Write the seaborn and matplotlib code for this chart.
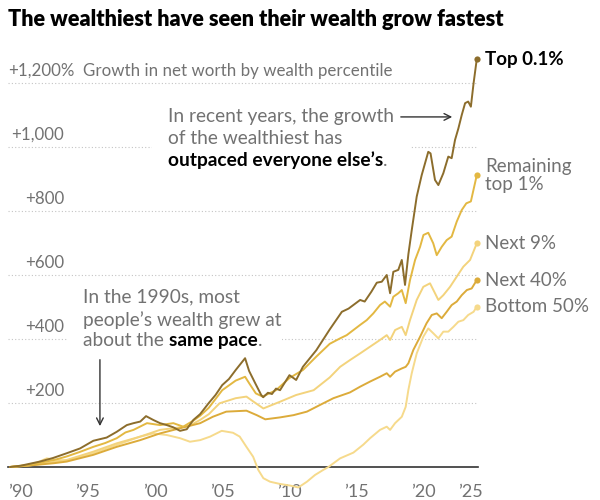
import matplotlib
matplotlib.use("Agg")
import matplotlib.pyplot as plt
import matplotlib.transforms as mtransforms
from matplotlib.patches import Rectangle
import seaborn as sns
import pandas as pd

sns.set_theme(style="white")
plt.rcParams["font.family"] = ["Lato", "DejaVu Sans"]

# growth in net worth since 1989 (%)
top01_year = [1989.2, 1990.0, 1991.44, 1992.4, 1993.43, 1994.42, 1995.41, 1996.4, 1997.15, 1997.9,
              1998.4, 1998.9, 1999.33, 1999.87, 2000.37, 2000.87, 2001.36, 2001.86, 2002.36, 2002.85,
              2003.35, 2004.0, 2004.5, 2005.0, 2005.5, 2006.0, 2006.7, 2007.0, 2007.5, 2007.9, 2008.05,
              2008.4, 2008.7, 2009.0, 2009.3, 2010.0, 2010.5, 2011.0, 2012.0, 2013.0, 2013.9,
              2014.4, 2015.26, 2015.6, 2016.1, 2016.5, 2016.87, 2017.24, 2017.49, 2017.73, 2018.1,
              2018.36, 2018.6, 2018.85, 2019.1, 2019.47, 2019.84, 2020.33, 2020.5, 2020.83, 2021.08,
              2021.45, 2021.82, 2022.07, 2022.32, 2022.57, 2022.82, 2023.07, 2023.3, 2023.5, 2023.7,
              2023.94]
top01_pct = [0, 4, 17, 28, 43, 58, 82, 92, 110, 131,
             137, 142, 159, 147, 137, 131, 124, 113, 118, 147,
             165, 200, 225, 256, 275, 303, 340, 300, 258, 225, 218,
             232, 228, 245, 240, 287, 272, 313, 365, 430, 485,
             495, 522, 517, 548, 576, 579, 600, 543, 610, 616,
             647, 569, 665, 740, 845, 912, 985, 980, 897, 881,
             918, 970, 965, 1022, 1058, 1100, 1137, 1142, 1126, 1199,
             1275]

rem1_year = [1989.2, 1990.5, 1991.5, 1992.5, 1993.43, 1994.4, 1995.41, 1996.3, 1997.15, 1997.8,
             1998.4, 1999.4, 2000.37, 2001.36, 2002.1, 2002.85, 2003.35, 2004.0, 2005.0, 2006.0,
             2006.7, 2007.0, 2007.5, 2008.0, 2009.0, 2010.0, 2011.0, 2012.0, 2013.0, 2013.77,
             2014.26, 2014.76, 2015.26, 2015.75, 2016.24, 2016.74, 2017.1, 2017.49, 2017.73, 2018.1,
             2018.36, 2018.65, 2018.97, 2019.35, 2019.72, 2019.97, 2020.33, 2020.7, 2020.96, 2021.33,
             2021.7, 2022.07, 2022.45, 2022.82, 2023.16, 2023.5, 2023.94]
rem1_pct = [0, 6, 14, 22, 33, 47, 63, 75, 90, 108,
            116, 137, 131, 137, 126, 145, 160, 185, 240, 270,
            282, 262, 230, 220, 240, 278, 303, 345, 385, 402,
            412, 428, 444, 459, 480, 506, 517, 501, 532, 543,
            553, 512, 584, 647, 688, 725, 732, 699, 662, 688,
            709, 720, 767, 803, 824, 830, 912]

next9_year = [1989.2, 1990.5, 1991.5, 1992.5, 1993.43, 1995.41, 1997.15, 1998.9, 2000.37, 2001.86,
              2002.6, 2003.35, 2004.0, 2004.8, 2006.0, 2006.8, 2007.3, 2008.06, 2009.3, 2010.5,
              2011.8, 2013.0, 2013.77, 2014.5, 2015.26, 2016.0, 2016.74, 2017.24, 2017.49, 2017.86,
              2018.36, 2018.65, 2018.97, 2019.47, 2019.96, 2020.46, 2020.83, 2021.08, 2021.45, 2021.95,
              2022.45, 2022.94, 2023.44, 2023.94]
next9_pct = [0, 4, 10, 16, 22, 48, 74, 95, 116, 124,
             130, 147, 165, 199, 215, 220, 205, 183, 204, 225,
             240, 280, 313, 334, 355, 376, 397, 412, 397, 428,
             438, 412, 459, 522, 563, 574, 543, 522, 537, 563,
             595, 626, 647, 699]

next40_year = [1989.2, 1990.5, 1991.5, 1992.5, 1993.43, 1995.41, 1997.15, 1998.9, 2000.37, 2001.86,
               2003.36, 2004.3, 2005.3, 2006.8, 2007.57, 2008.2, 2009.3, 2010.3, 2011.3, 2012.28,
               2013.27, 2014.5, 2015.26, 2016.0, 2016.74, 2017.24, 2017.49, 2017.86, 2018.36, 2018.65,
               2018.85, 2019.22, 2019.72, 2020.2, 2020.59, 2020.96, 2021.33, 2021.7, 2022.07, 2022.45,
               2022.82, 2023.2, 2023.56, 2023.94]
next40_pct = [0, 4, 8, 12, 17, 38, 63, 84, 105, 121,
              137, 157, 173, 176, 162, 149, 155, 162, 173, 194,
              215, 233, 251, 267, 282, 293, 282, 298, 308, 313,
              324, 366, 407, 449, 475, 480, 465, 485, 506, 517,
              537, 553, 558, 584]

bottom50_year = [1989.2, 1990.5, 1991.3, 1991.94, 1992.7, 1993.43, 1995.41, 1997.15, 1998.9, 1999.87,
                 2000.87, 2001.86, 2002.6, 2003.36, 2004.1, 2004.96, 2005.8, 2006.3, 2006.8, 2007.3,
                 2007.68, 2008.06, 2008.56, 2009.3, 2010.05, 2010.66, 2011.3, 2011.9, 2012.52, 2012.9,
                 2013.77, 2014.76, 2015.5, 2016.0, 2016.74, 2017.24, 2017.49, 2017.86, 2018.36, 2018.65,
                 2018.85, 2019.1, 2019.47, 2019.96, 2020.33, 2020.7, 2021.08, 2021.45, 2021.82, 2022.2,
                 2022.57, 2022.94, 2023.3, 2023.7, 2023.94]
bottom50_pct = [0, 6, 15, 27, 22, 20, 43, 69, 95, 105,
                100, 90, 79, 84, 95, 113, 107, 95, 63, 32,
                -9, -35, -46, -53, -58, -64, -46, -25, -9, 0,
                27, 45, 70, 90, 116, 126, 116, 137, 157, 188,
                241, 293, 355, 407, 433, 418, 402, 423, 423, 438,
                454, 459, 475, 485, 501]

groups = ["Bottom 50%", "Next 9%", "Next 40%", "Remaining top 1%", "Top 0.1%"]
end_labels = {"Top 0.1%": "Top 0.1%", "Remaining top 1%": "Remaining\ntop 1%",
              "Next 9%": "Next 9%", "Next 40%": "Next 40%", "Bottom 50%": "Bottom 50%"}
palette = {"Top 0.1%": "#8c6d2c", "Remaining top 1%": "#e3b842", "Next 9%": "#f3d37c",
           "Next 40%": "#dcab3a", "Bottom 50%": "#f6da8c"}

grid_vals = [200, 400, 600, 800, 1000, 1200]
grid_labels = ["+200", "+400", "+600", "+800", "+1,000", "+1,200%"]
tick_years = [1990, 1995, 2000, 2005, 2010, 2015, 2020]
tick_labels = ["\u201990", "\u201995", "\u201900", "\u201905", "\u201910", "\u201915", "\u201920", "\u201925"]

data = {"Top 0.1%": (top01_year, top01_pct), "Remaining top 1%": (rem1_year, rem1_pct),
        "Next 9%": (next9_year, next9_pct), "Next 40%": (next40_year, next40_pct),
        "Bottom 50%": (bottom50_year, bottom50_pct)}
rows = []
for g in groups:
    for yr, v in zip(*data[g]):
        rows.append({"group": g, "year": yr, "pct": v})
df = pd.DataFrame(rows)

GRAY = "#727272"
fig = plt.figure(figsize=(6, 5), dpi=100)
ax = fig.add_axes([8 / 600, 33 / 500, 470 / 600, 416 / 500])
ax.set_axisbelow(True)

sns.lineplot(data=df, x="year", y="pct", hue="group", hue_order=groups, palette=palette,
             estimator=None, sort=False, linewidth=1.4, legend=False, ax=ax, zorder=3)
for ln in ax.lines:
    ln.set_clip_on(False)
ax.set_xlabel("")
ax.set_ylabel("")

last = df.groupby("group").tail(1).set_index("group")
for g in groups:
    xe, ye = last.loc[g, "year"], last.loc[g, "pct"]
    ax.scatter([xe], [ye], s=20, color=palette[g], zorder=4, clip_on=False, linewidths=0)
    bold = g == "Top 0.1%"
    ax.annotate(end_labels[g], (xe, ye), xytext=(6, 0), textcoords="offset points",
                va="center", ha="left", fontsize=13.5,
                fontweight="bold" if bold else "normal",
                color="black" if bold else GRAY, linespacing=1.05, annotation_clip=False)

x0, x1 = 1989.06, 2024.03
ax.set_xlim(x0, x1)
ax.set_ylim(0, 1300)

ax.set_yticks(grid_vals)
ax.grid(axis="y", color="#c4c4c4", linestyle=(0, (1, 2)), linewidth=0.8)
ax.grid(axis="x", visible=False)
ax.tick_params(left=False, labelleft=False, bottom=False, labelsize=13, labelcolor=GRAY, pad=6)

end_year = last.loc["Top 0.1%", "year"]
ax.set_xticks(tick_years + [end_year - 0.5])
ax.set_xticklabels(tick_labels)

for s in ["left", "right", "top"]:
    ax.spines[s].set_visible(False)
ax.spines["bottom"].set_color("#333333")
ax.spines["bottom"].set_linewidth(1.2)

trans = mtransforms.blended_transform_factory(ax.transAxes, ax.transData)
lab_off = mtransforms.offset_copy(trans, fig=fig, x=0, y=7, units="dots")
for v, lab in zip(grid_vals, grid_labels):
    if lab.endswith("%"):
        t = ax.text(0.001, v, lab, transform=lab_off, ha="left", va="baseline",
                    fontsize=12.2, color=GRAY)
        ax.annotate("Growth in net worth by wealth percentile", xy=(1, 0), xycoords=t,
                    xytext=(6, 0), textcoords="offset points", ha="left", va="bottom",
                    fontsize=12.2, color=GRAY)
    else:
        ax.text(56 / 470, v, lab, transform=lab_off, ha="right", va="baseline",
                fontsize=12.2, color=GRAY)

NOTE_FS = 13.8

# white backing behind the two notes (hides the dotted grid there, not the lines)
ax.add_patch(Rectangle((1999.78, 912), 2018.97 - 1999.78, 1147 - 912,
                       facecolor="white", edgecolor="none", zorder=2))
ax.add_patch(Rectangle((1993.45, 347), 2009.45 - 1993.45, 578 - 347,
                       facecolor="white", edgecolor="none", zorder=2))


def note_line(x, y, parts):
    prev = None
    for txt, bold in parts:
        kw = dict(fontsize=NOTE_FS, color="black" if bold else GRAY,
                  fontweight="bold" if bold else "normal", zorder=5)
        if prev is None:
            prev = ax.text(x, y, txt, va="center", ha="left", **kw)
        else:
            prev = ax.annotate(txt, xy=(1, 0), xycoords=prev, ha="left", va="bottom", **kw)


# recent years note
note_line(2000.97, 1094, [("In recent years, the growth", False)])
note_line(2000.97, 1028, [("of the wealthiest has", False)])
note_line(2000.97, 959, [("outpaced everyone else\u2019s", True), (".", False)])
ax.annotate("", xy=(2022.32, 1094), xytext=(2018.08, 1094),
            arrowprops=dict(arrowstyle="->", color="#333333", lw=1.0), zorder=5)

# 1990s note
note_line(1994.65, 531, [("In the 1990s, most", False)])
note_line(1994.65, 459, [("people\u2019s wealth grew at", False)])
note_line(1994.65, 394, [("about the ", False), ("same pace", True), (".", False)])
ax.annotate("", xy=(1995.9, 119), xytext=(1995.9, 344),
            arrowprops=dict(arrowstyle="->", color="#333333", lw=1.0), zorder=5)

fig.text(8 / 600, 1 - 19 / 500, "The wealthiest have seen their wealth grow fastest",
         fontsize=15.6, fontweight="heavy", ha="left", va="center", color="black")

fig.savefig("out.png", dpi=100)
